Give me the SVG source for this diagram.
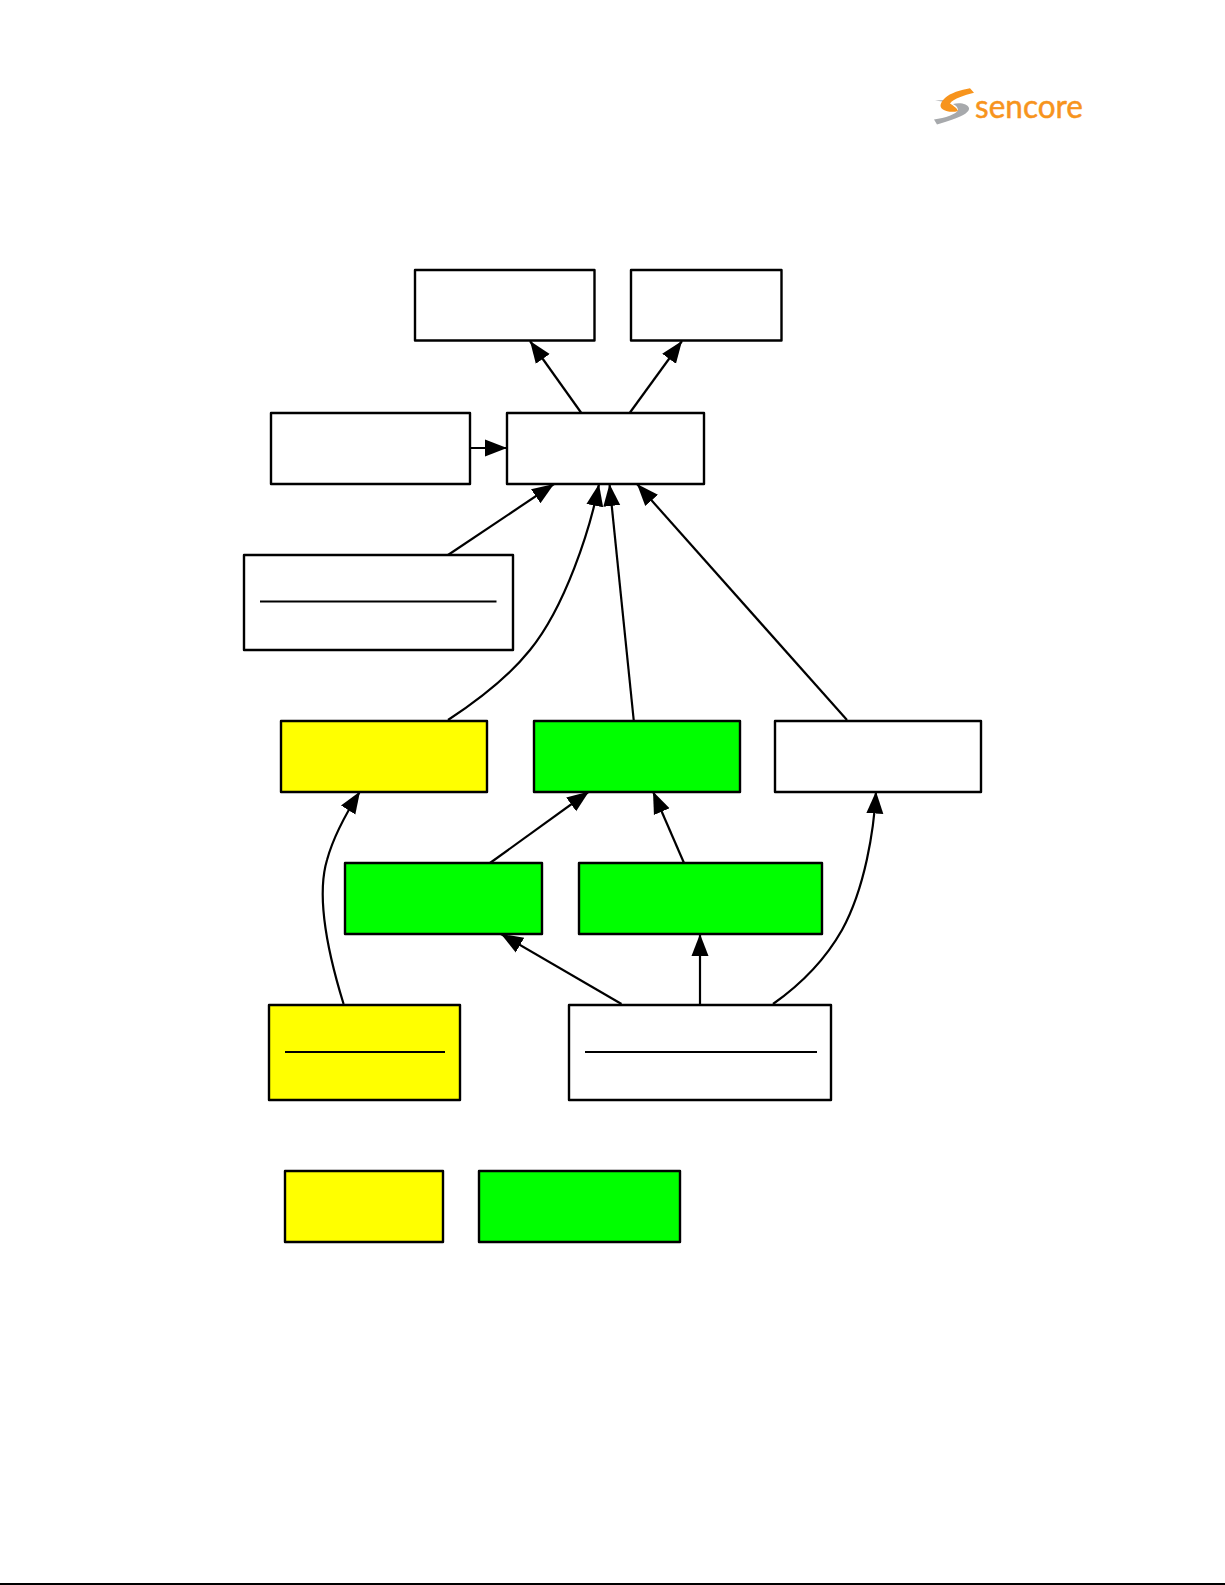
<svg xmlns="http://www.w3.org/2000/svg" width="1225" height="1585" viewBox="0 0 1225 1585">
<defs>
<style>
.n{stroke:#000;stroke-width:2.4;stroke-linejoin:round}
.w{fill:#fff}.y{fill:#ff0}.g{fill:#0f0}
.d{stroke:#000;stroke-width:2.2;fill:none}
.c{stroke:#000;stroke-width:2.2;fill:none;marker-end:url(#a)}
</style>
<marker id="a" markerUnits="userSpaceOnUse" markerWidth="24" markerHeight="20" refX="22" refY="10" orient="auto" viewBox="0 0 24 20"><path d="M0 1.500L22 10L0 18.500z" fill="#000"/></marker>
</defs>
<rect width="1225" height="1585" fill="#fff"/>
<g id="logo">
<path d="M935 100.500L948 100L946 102z" fill="#a7a9ac"/>
<path d="M934 119.500C945 118 957 114 958 110C958 107 955 105 953 104C960 102 968 104 969 108C970 114 955 119 937 124.500z" fill="#a7a9ac"/>
<path d="M970 88.300C961 90 950 93 945 98C940 103 939 107 943 109.500C947 112 953 112.500 958 111C957 108 953 105.500 950 103.500C954 98 964 95.500 974 92.700z" fill="#f7941d"/>
<text x="975" y="118" font-family="Lato,'Liberation Sans',sans-serif" font-size="33" stroke="#f7941d" stroke-width=".5" fill="#f7941d" textLength="108" lengthAdjust="spacingAndGlyphs">sencore</text>
</g>
<g id="connectors">
<path class="c" d="M581 412.500L530 341"/>
<path class="c" d="M630 412.500L682 341"/>
<path class="c" d="M470 448L507 448"/>
<path class="c" d="M448 555L554 484"/>
<path class="c" d="M448 720C480 699 510 675 530 650C565 607 590 530 599 484"/>
<path class="c" d="M633.700 720L609.500 484"/>
<path class="c" d="M847 720L637 484"/>
<path class="c" d="M490 863L589 791.500"/>
<path class="c" d="M684 863L653 791.500"/>
<path class="c" d="M343.600 1004C330 960 315 900 327 860C333 838 345 815 360 791.500"/>
<path class="c" d="M773 1004C800 985 825 960 842 930C865 888 874 830 876 791.500"/>
<path class="c" d="M621.500 1004L501 934"/>
<path class="c" d="M700 1004L700 934"/>
</g>
<g id="n1"><rect class="n w" x="415" y="270" width="179.500" height="70.500"/></g>
<g id="n2"><rect class="n w" x="631" y="270" width="150.500" height="70.500"/></g>
<g id="n3"><rect class="n w" x="271" y="413" width="199" height="71"/></g>
<g id="n4"><rect class="n w" x="507" y="413" width="197" height="71"/></g>
<g id="n5"><rect class="n w" x="244" y="555" width="269" height="95"/><path class="d" d="M260 601.500H496.500"/></g>
<g id="n6"><rect class="n y" x="281" y="721" width="206" height="71"/></g>
<g id="n7"><rect class="n g" x="534" y="721" width="206" height="71"/></g>
<g id="n8"><rect class="n w" x="775" y="721" width="206" height="71"/></g>
<g id="n9"><rect class="n g" x="345" y="863" width="197" height="71"/></g>
<g id="n10"><rect class="n g" x="579" y="863" width="243" height="71"/></g>
<g id="n11"><rect class="n y" x="269" y="1005" width="191" height="95"/><path class="d" d="M285 1052H445"/></g>
<g id="n12"><rect class="n w" x="569" y="1005" width="262" height="95"/><path class="d" d="M585 1052H817"/></g>
<g id="n13"><rect class="n y" x="285" y="1171" width="158" height="71"/></g>
<g id="n14"><rect class="n g" x="479" y="1171" width="201" height="71"/></g>
<path id="footer-rule" d="M0 1584H1225" stroke="#000" stroke-width="1.800"/>
</svg>
